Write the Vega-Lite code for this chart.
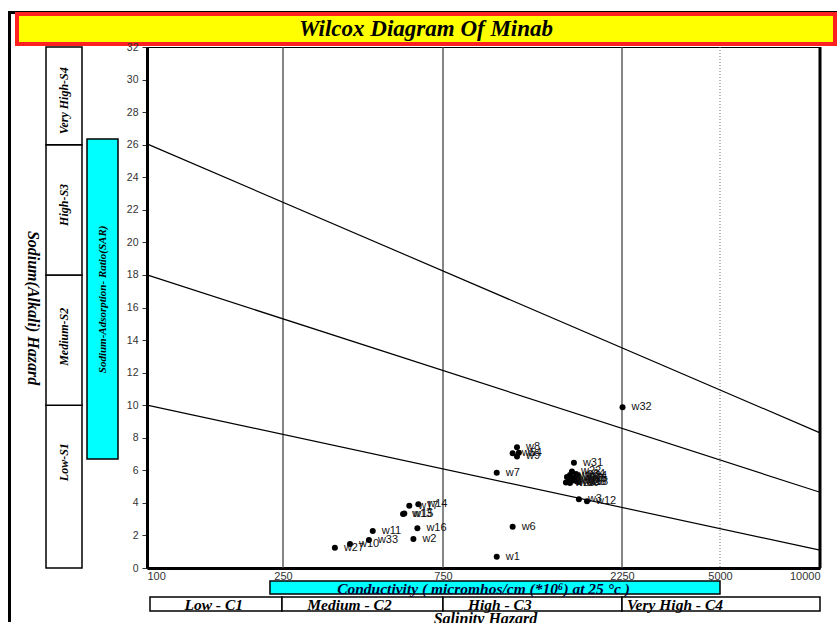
{
  "$schema": "https://vega.github.io/schema/vega-lite/v6.json",
  "padding": {"left": 8, "top": 6, "right": 0, "bottom": 0},
  "background": "white",
  "config": {"view": {"stroke": null}, "axis": {"labelOverlap": false}},
  "datasets": {
    "points": [
      {"well": "w1", "ec": 1043, "sar": 0.69},
      {"well": "w2", "ec": 612, "sar": 1.78},
      {"well": "w3", "ec": 1727, "sar": 4.22},
      {"well": "w4", "ec": 1195, "sar": 7.08},
      {"well": "w5", "ec": 1150, "sar": 7.05},
      {"well": "w6", "ec": 1150, "sar": 2.54},
      {"well": "w7", "ec": 1043, "sar": 5.85},
      {"well": "w8", "ec": 1181, "sar": 7.41},
      {"well": "w9", "ec": 1181, "sar": 6.85},
      {"well": "w10", "ec": 396, "sar": 1.47},
      {"well": "w11", "ec": 463, "sar": 2.27},
      {"well": "w12", "ec": 1815, "sar": 4.1},
      {"well": "w13", "ec": 570, "sar": 3.32},
      {"well": "w14", "ec": 633, "sar": 3.91},
      {"well": "w15", "ec": 575, "sar": 3.34},
      {"well": "w16", "ec": 629, "sar": 2.44},
      {"well": "w17", "ec": 595, "sar": 3.83},
      {"well": "w18", "ec": 1727, "sar": 5.28},
      {"well": "w19", "ec": 1628, "sar": 5.41},
      {"well": "w20", "ec": 1635, "sar": 5.71},
      {"well": "w21", "ec": 1605, "sar": 5.59},
      {"well": "w22", "ec": 1655, "sar": 5.93},
      {"well": "w23", "ec": 1675, "sar": 5.53},
      {"well": "w24", "ec": 1717, "sar": 5.68},
      {"well": "w25", "ec": 1717, "sar": 5.47},
      {"well": "w26", "ec": 1665, "sar": 5.37},
      {"well": "w27", "ec": 357, "sar": 1.25},
      {"well": "w28", "ec": 1707, "sar": 5.31},
      {"well": "w29", "ec": 1595, "sar": 5.25},
      {"well": "w30", "ec": 1635, "sar": 5.22},
      {"well": "w31", "ec": 1675, "sar": 6.47},
      {"well": "w32", "ec": 2260, "sar": 9.87},
      {"well": "w33", "ec": 451, "sar": 1.72},
      {"well": "w34", "ec": 1697, "sar": 5.77}
    ],
    "lines": [
      {"line": "a", "ec": 100, "sar": 10},
      {"line": "a", "ec": 10000, "sar": 1.1},
      {"line": "b", "ec": 100, "sar": 18},
      {"line": "b", "ec": 10000, "sar": 4.65},
      {"line": "c", "ec": 100, "sar": 26.05},
      {"line": "c", "ec": 10000, "sar": 8.3}
    ],
    "vlines": [{"ec": 250}, {"ec": 750}, {"ec": 2250}],
    "dotted": [{"ec": 5000}],
    "edge": [{"ec": 10000}],
    "sbox": [
      {"label": "Low-S1", "lo": 0, "hi": 10, "at": 6.5},
      {"label": "Medium-S2", "lo": 10, "hi": 18, "at": 14.2},
      {"label": "High-S3", "lo": 18, "hi": 26, "at": 22.3},
      {"label": "Very High-S4", "lo": 26, "hi": 32, "at": 28.7}
    ],
    "sarbox": [
      {"label": "Sodium-Adsorption- Ratio(SAR)", "lo": 6.7, "hi": 26.35, "at": 16.5}
    ],
    "condbox": [
      {"label": "Conductivity ( micromhos/cm (*10⁶) at 25 °c )", "lo": 229, "hi": 5000}
    ],
    "hazard": [
      {"label": "Low - C1", "lo": 100, "hi": 250, "at": 127},
      {"label": "Medium - C2", "lo": 250, "hi": 750, "at": 297},
      {"label": "High - C3", "lo": 750, "hi": 2250, "at": 874},
      {"label": "Very High - C4", "lo": 2250, "hi": 10000, "at": 2336}
    ]
  },
  "spacing": 0,
  "bounds": "flush",
  "vconcat": [
    {"width": 829, "height": 3, "view": {"fill": "black", "stroke": null}, "data": {"values": [{}]}, "mark": {"type": "text", "text": ""}},
    {
      "spacing": 6,
      "bounds": "flush",
      "hconcat": [
        {"width": 3, "height": 608, "view": {"fill": "black", "stroke": null}, "data": {"values": [{}]}, "mark": {"type": "text", "text": ""}},
        {
          "spacing": 3,
          "bounds": "flush",
          "vconcat": [
            {
              "width": 818, "height": 30,
              "view": {"fill": "#ffff00", "stroke": "#ff2020", "strokeWidth": 4},
              "data": {"values": [{"t": "Wilcox Diagram Of Minab"}]},
              "mark": {"type": "text", "font": "Liberation Serif", "fontSize": 23, "fontWeight": "bold", "fontStyle": "italic", "color": "#000000", "baseline": "middle", "align": "center"},
              "encoding": {"text": {"field": "t"}}
            },
            {
              "spacing": 0,
              "bounds": "flush",
              "hconcat": [
                {"width": 29, "height": 1, "data": {"values": [{}]}, "mark": {"type": "text", "text": ""}},
                {
                  "width": 36, "height": 521,
                  "data": {"name": "sbox"},
                  "layer": [
                    {
                      "mark": {"type": "rect", "fill": "white", "stroke": "black", "strokeWidth": 1.5},
                      "encoding": {
                        "y": {"field": "lo", "type": "quantitative", "scale": {"domain": [0, 32], "nice": false, "zero": false},
                          "axis": {"title": "Sodium(Alkali) Hazard", "labels": false, "ticks": false, "domain": false, "grid": false,
                            "titleAngle": 90, "titleBaseline": "middle", "titlePadding": 14, "titleFont": "Liberation Serif",
                            "titleFontSize": 16, "titleFontWeight": "bold", "titleFontStyle": "italic", "titleColor": "black"}},
                        "y2": {"field": "hi"}
                      }
                    },
                    {
                      "mark": {"type": "text", "angle": 270, "font": "Liberation Serif", "fontSize": 12, "fontWeight": "bold", "fontStyle": "italic", "color": "black", "baseline": "middle", "align": "center"},
                      "encoding": {
                        "y": {"field": "at", "type": "quantitative"},
                        "text": {"field": "label"}
                      }
                    }
                  ]
                },
                {"width": 5, "height": 1, "data": {"values": [{}]}, "mark": {"type": "text", "text": ""}},
                {
                  "width": 31, "height": 521,
                  "data": {"name": "sarbox"},
                  "layer": [
                    {
                      "mark": {"type": "rect", "fill": "#00ffff", "stroke": "black", "strokeWidth": 1.5},
                      "encoding": {
                        "y": {"field": "lo", "type": "quantitative", "scale": {"domain": [0, 32], "nice": false, "zero": false}, "axis": null},
                        "y2": {"field": "hi"}
                      }
                    },
                    {
                      "mark": {"type": "text", "angle": 270, "font": "Liberation Serif", "fontSize": 11, "fontWeight": "bold", "fontStyle": "italic", "color": "black", "baseline": "middle", "align": "center"},
                      "encoding": {
                        "y": {"field": "at", "type": "quantitative"},
                        "text": {"field": "label"}
                      }
                    }
                  ]
                },
                {"width": 29, "height": 1, "data": {"values": [{}]}, "mark": {"type": "text", "text": ""}},
                {
                  "spacing": 3,
                  "bounds": "flush",
                  "vconcat": [
                    {
                      "width": 673, "height": 521,
                      "view": {"stroke": "black", "strokeWidth": 1},
                      "encoding": {
                        "x": {"field": "ec", "type": "quantitative",
                          "scale": {"type": "log", "domain": [100, 250, 750, 2250, 5000, 10000], "range": [0, 136, 296, 475, 573, 673], "nice": false},
                          "axis": {"values": [100, 250, 750, 2250, 5000, 10000], "format": "d", "ticks": false, "tickSize": 0, "grid": false,
                            "domainColor": "black", "domainWidth": 3, "labelFont": "Liberation Sans", "labelFontSize": 11,
                            "labelColor": "#333333", "labelPadding": 2, "labelOverlap": false, "title": null}}
                      },
                      "layer": [
                        {
                          "data": {"name": "vlines"},
                          "mark": {"type": "rule", "color": "#444444", "strokeWidth": 1.3}
                        },
                        {
                          "data": {"name": "dotted"},
                          "mark": {"type": "rule", "color": "#777777", "strokeWidth": 1, "strokeDash": [1, 2]}
                        },
                        {
                          "data": {"name": "edge"},
                          "mark": {"type": "rule", "color": "black", "strokeWidth": 3}
                        },
                        {
                          "data": {"name": "lines"},
                          "encoding": {
                            "y": {"field": "sar", "type": "quantitative",
                              "scale": {"domain": [0, 32], "nice": false, "zero": false},
                              "axis": {"values": [0, 2, 4, 6, 8, 10, 12, 14, 16, 18, 20, 22, 24, 26, 28, 30, 32], "tickSize": 5, "tickColor": "#333333",
                                "grid": false, "domainColor": "black", "domainWidth": 3, "labelFont": "Liberation Sans", "labelFontSize": 10.5,
                                "labelColor": "#333333", "labelPadding": 4, "labelOverlap": false, "labelBound": false, "title": null}},
                            "detail": {"field": "line"}
                          },
                          "layer": [
                            {"mark": {"type": "line", "color": "black", "strokeWidth": 1.2}}
                          ]
                        },
                        {
                          "data": {"name": "points"},
                          "encoding": {
                            "y": {"field": "sar", "type": "quantitative",
                              "scale": {"domain": [0, 32], "nice": false, "zero": false},
                              "axis": {"values": [0, 2, 4, 6, 8, 10, 12, 14, 16, 18, 20, 22, 24, 26, 28, 30, 32], "tickSize": 5, "tickColor": "#333333",
                                "grid": false, "domainColor": "black", "domainWidth": 3, "labelFont": "Liberation Sans", "labelFontSize": 10.5,
                                "labelColor": "#333333", "labelPadding": 4, "labelOverlap": false, "labelBound": false, "title": null}}
                          },
                          "layer": [
                            {"mark": {"type": "circle", "color": "black", "size": 36, "opacity": 1}},
                            {
                              "mark": {"type": "text", "align": "left", "baseline": "middle", "dx": 9, "font": "Liberation Sans", "fontSize": 11, "color": "#111111"},
                              "encoding": {"text": {"field": "well"}}
                            }
                          ]
                        }
                      ]
                    },
                    {"width": 10, "height": 7, "data": {"values": [{}]}, "mark": {"type": "text", "text": ""}},
                    {
                      "width": 673, "height": 13,
                      "data": {"name": "condbox"},
                      "layer": [
                        {
                          "mark": {"type": "rect", "fill": "#00ffff", "stroke": "black", "strokeWidth": 1.5},
                          "encoding": {
                            "x": {"field": "lo", "type": "quantitative",
                              "scale": {"type": "log", "domain": [100, 250, 750, 2250, 5000, 10000], "range": [0, 136, 296, 475, 573, 673], "nice": false},
                              "axis": null},
                            "x2": {"field": "hi"}
                          }
                        },
                        {
                          "mark": {"type": "text", "font": "Liberation Serif", "fontSize": 15.5, "fontWeight": "bold", "fontStyle": "italic", "color": "#000033", "baseline": "middle", "align": "center", "dy": 1},
                          "encoding": {"text": {"field": "label"}}
                        }
                      ]
                    },
                    {
                      "spacing": 0,
                      "bounds": "flush",
                      "hconcat": [
                        {"width": 3, "height": 1, "data": {"values": [{}]}, "mark": {"type": "text", "text": ""}},
                        {
                          "width": 670, "height": 14,
                          "data": {"name": "hazard"},
                          "layer": [
                            {
                              "mark": {"type": "rect", "fill": "white", "stroke": "black", "strokeWidth": 1.5},
                              "encoding": {
                                "x": {"field": "lo", "type": "quantitative",
                                  "scale": {"type": "log", "domain": [100, 250, 750, 2250, 10000], "range": [0, 132, 293, 472, 670], "nice": false},
                                  "axis": {"title": "Salinity  Hazard", "labels": false, "ticks": false, "domain": false, "grid": false,
                                    "titleFont": "Liberation Serif", "titleFontSize": 16, "titleFontWeight": "bold", "titleFontStyle": "italic",
                                    "titleColor": "black", "titleBaseline": "alphabetic", "titlePadding": 12}},
                                "x2": {"field": "hi"}
                              }
                            },
                            {
                              "mark": {"type": "text", "align": "left", "baseline": "middle", "font": "Liberation Serif", "fontSize": 15.5, "fontWeight": "bold", "fontStyle": "italic", "color": "black", "dy": 1},
                              "encoding": {
                                "x": {"field": "at", "type": "quantitative"},
                                "text": {"field": "label"}
                              }
                            }
                          ]
                        }
                      ]
                    }
                  ]
                }
              ]
            }
          ]
        }
      ]
    }
  ]
}
